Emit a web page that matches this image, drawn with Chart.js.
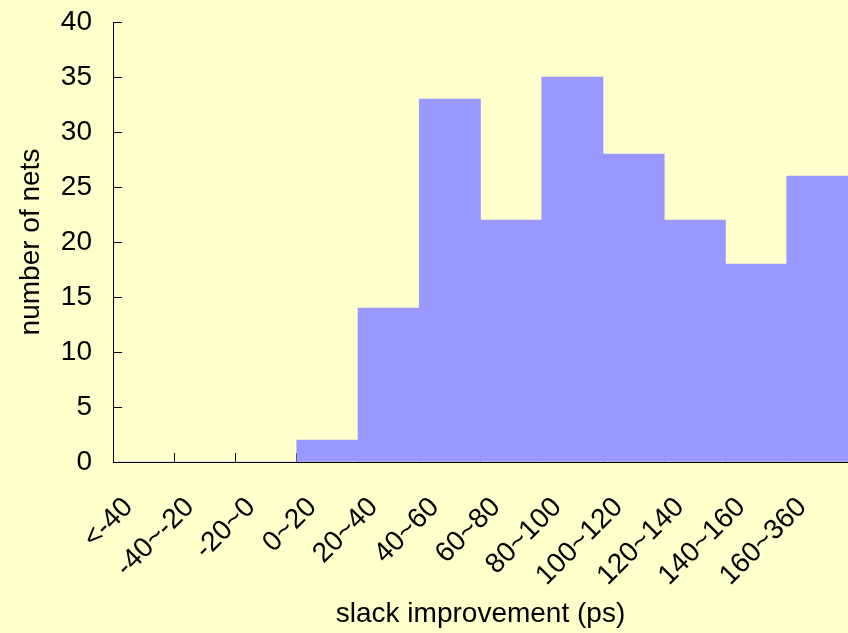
<!DOCTYPE html>
<html>
<head>
<meta charset="utf-8">
<script src="https://cdn.jsdelivr.net/npm/chart.js@4.4.0/dist/chart.umd.min.js"></script>
<style>
  html, body { margin: 0; padding: 0; background: #FFFFCC; }
  #wrap { width: 848px; height: 633px; position: relative; }
</style>
</head>
<body>
<div id="wrap"><canvas id="slackChart"></canvas></div>
<script>
// histogram data
const categories = ['<-40', '-40~-20', '-20~0', '0~20', '20~40', '40~60', '60~80',
    '80~100', '100~120', '120~140', '140~160', '160~360'];
const netCounts = [0, 0, 0, 2, 14, 33, 22, 35, 28, 22, 18, 26];
const yTicks = [0, 5, 10, 15, 20, 25, 30, 35, 40];

const labelFont = { family: '"Liberation Sans", Arial, Helvetica, sans-serif', size: 28 };

const ctx = document.getElementById('slackChart').getContext('2d');
const slackChart = new Chart(ctx, {
    type: 'bar',
    data: {
        labels: categories,
        datasets: [{
            label: 'nets',
            data: netCounts,
            backgroundColor: '#9999FF',
            borderWidth: 0,
            barPercentage: 1.0,
            categoryPercentage: 1.0
        }]
    },
    options: {
        responsive: true,
        maintainAspectRatio: false,
        animation: false,
        layout: { padding: { top: 22, right: 0, bottom: 0, left: 0 } },
        plugins: {
            legend: { display: false },
            tooltip: { enabled: false }
        },
        scales: {
            x: {
                z: 1,
                offset: true,
                grid: {
                    offset: true,
                    drawOnChartArea: false,
                    tickLength: -9,
                    tickColor: '#000',
                    lineWidth: 1
                },
                border: { color: '#000', width: 1 },
                ticks: {
                    color: '#000',
                    font: labelFont,
                    minRotation: 45,
                    maxRotation: 45,
                    autoSkip: false,
                    padding: 38,
                    labelOffset: -15
                },
                title: {
                    display: true,
                    text: 'slack improvement (ps)',
                    color: '#000',
                    font: labelFont,
                    padding: { top: 0, bottom: 2 }
                },
                // keep the plot flush to the right edge
                afterFit: function(scale) {
                    scale.height = 171;
                    scale.paddingLeft = 0;
                    scale.paddingRight = 0;
                }
            },
            y: {
                z: 1,
                min: 0,
                max: 40,
                afterBuildTicks: function(scale) {
                    scale.ticks = yTicks.map(v => ({ value: v }));
                },
                grid: {
                    drawOnChartArea: false,
                    tickLength: -9,
                    tickColor: '#000'
                },
                border: { color: '#000', width: 1 },
                ticks: {
                    color: '#000',
                    font: labelFont,
                    padding: 30
                },
                title: {
                    display: true,
                    text: 'number of nets',
                    color: '#000',
                    font: labelFont,
                    padding: { top: 14, bottom: 0 }
                },
                afterFit: function(scale) {
                    scale.width = 113;
                    scale.paddingTop = 0;
                    scale.paddingBottom = 0;
                }
            }
        }
    }
});
</script>
</body>
</html>
